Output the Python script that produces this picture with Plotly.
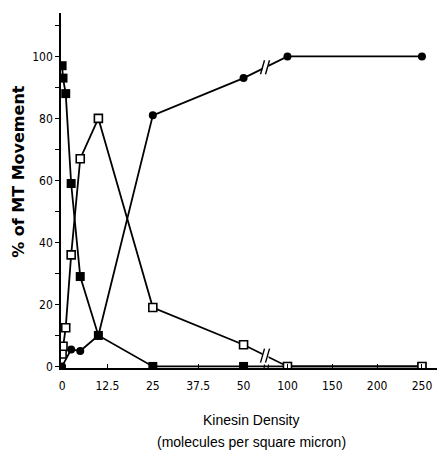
import plotly.graph_objects as go

# ---- data (real kinesin density values) ----
circle_x = [0, 2.5, 5, 10, 25, 50, 100, 250]
circle_y = [0, 5.5, 5, 10, 81, 93, 100, 100]

fsquare_x = [0, 0.25, 1, 2.5, 5, 10, 25, 50, 100, 250]
fsquare_y = [97, 93, 88, 59, 29, 10, 0, 0, 0, 0]

osquare_x = [0, 0.25, 1, 2.5, 5, 10, 25, 50, 100, 250]
osquare_y = [4, 6.5, 12.5, 36, 67, 80, 19, 7, 0, 0]

x_tick_vals = [0, 12.5, 25, 37.5, 50, 100, 150, 200, 250]
x_tick_text = ["0", "12.5", "25", "37.5", "50", "100", "150", "200", "250"]
y_tick_vals = [0, 10, 20, 30, 40, 50, 60, 70, 80, 90, 100, 110]
y_tick_text = ["0", "", "20", "", "40", "", "60", "", "80", "", "100", ""]

# ---- broken x scale: linear up to 50, compressed from 100 on ----
BREAK_LO, BREAK_HI = 50, 100
POS_HI = 62.1
K_HI = 0.247


def pos(v):
    if v <= BREAK_LO:
        return v
    return POS_HI + (v - BREAK_HI) * K_HI


def mapx(xs):
    return [pos(v) for v in xs]


FONT = "Liberation Sans Narrow, DejaVu Sans Condensed, Arial Narrow, sans-serif"
LINE = dict(color="black", width=1.8)

fig = go.Figure()
fig.add_trace(go.Scatter(x=mapx(fsquare_x), y=fsquare_y, mode="lines+markers",
                         line=LINE, marker=dict(symbol="square", size=9, color="black"),
                         showlegend=False))
fig.add_trace(go.Scatter(x=mapx(circle_x), y=circle_y, mode="lines+markers",
                         line=LINE, marker=dict(symbol="circle", size=8, color="black"),
                         showlegend=False))
fig.add_trace(go.Scatter(x=mapx(osquare_x), y=osquare_y, mode="lines+markers",
                         line=LINE, marker=dict(symbol="square", size=8, color="white",
                                                line=dict(color="black", width=1.6)),
                         showlegend=False))


# ---- break marks ("//") on the segments that cross the scale break ----
def interp_at_break(xs, ys):
    for i in range(len(xs) - 1):
        if xs[i] == BREAK_LO and xs[i + 1] == BREAK_HI:
            p0, p1 = pos(xs[i]), pos(xs[i + 1])
            pm = (p0 + p1) / 2
            return pm, ys[i] + (ys[i + 1] - ys[i]) * 0.5
    return None


shapes = []


def add_break(px, py, h=7):
    # white gap
    shapes.append(dict(type="rect", xref="x", yref="y", xsizemode="pixel", ysizemode="pixel",
                       xanchor=px, yanchor=py, x0=-3, x1=3, y0=-5, y1=5,
                       fillcolor="white", line=dict(width=0), layer="above"))
    for dx in (-3, 2):
        shapes.append(dict(type="line", xref="x", yref="y", xsizemode="pixel", ysizemode="pixel",
                           xanchor=px, yanchor=py, x0=dx - 2, x1=dx + 2, y0=-h, y1=h,
                           line=dict(color="black", width=1.4), layer="above"))


for xs, ys in ((circle_x, circle_y), (osquare_x, osquare_y)):
    b = interp_at_break(xs, ys)
    if b:
        add_break(b[0], b[1])

# axis break mark
axis_break = (pos(BREAK_LO) + pos(BREAK_HI)) / 2
for dx in (-2, 2):
    shapes.append(dict(type="line", xref="x", yref="y", xsizemode="pixel", ysizemode="pixel",
                       xanchor=axis_break, yanchor=0, x0=dx, x1=dx + 1, y0=-6, y1=2,
                       line=dict(color="black", width=1.2), layer="above"))

fig.update_layout(
    template="none",
    width=441, height=453,
    margin=dict(l=61, r=4, t=13, b=85, autoexpand=False),
    paper_bgcolor="white", plot_bgcolor="white",
    font=dict(family=FONT, color="black", size=12),
    shapes=shapes,
    annotations=[
        dict(text="% of MT Movement", textangle=-90, xref="paper", yref="paper",
             x=-0.112, y=0.555, xanchor="center", yanchor="middle", showarrow=False,
             font=dict(family="DejaVu Sans, Arial, sans-serif", size=16, color="black",
                       weight="bold")),
        dict(text="Kinesin Density", xref="paper", yref="paper", x=0.507, y=-0.146,
             xanchor="center", yanchor="middle", showarrow=False,
             font=dict(family="Liberation Sans, Arial, sans-serif", size=14)),
        dict(text="(molecules per square micron)", xref="paper", yref="paper", x=0.507,
             y=-0.208, xanchor="center", yanchor="middle", showarrow=False,
             font=dict(family="Liberation Sans, Arial, sans-serif", size=14)),
    ],
)
fig.update_xaxes(range=[-0.3, 103.3], tickvals=mapx(x_tick_vals), ticktext=x_tick_text,
                 automargin=False,
                 showgrid=False, zeroline=False, showline=True, linecolor="black",
                 linewidth=1.5, ticks="inside", ticklen=4, tickcolor="black",
                 ticklabelstandoff=6, tickfont=dict(size=12))
fig.update_yaxes(range=[-0.5, 114], tickvals=y_tick_vals, ticktext=y_tick_text,
                 automargin=False,
                 showgrid=False, zeroline=False, showline=True, linecolor="black",
                 linewidth=1.5, ticks="outside", ticklen=4, tickcolor="black",
                 tickfont=dict(size=12))

fig.write_html("out.html", config={"displayModeBar": False},
               post_script="document.body.style.margin='0px';document.body.style.overflow='hidden';")
